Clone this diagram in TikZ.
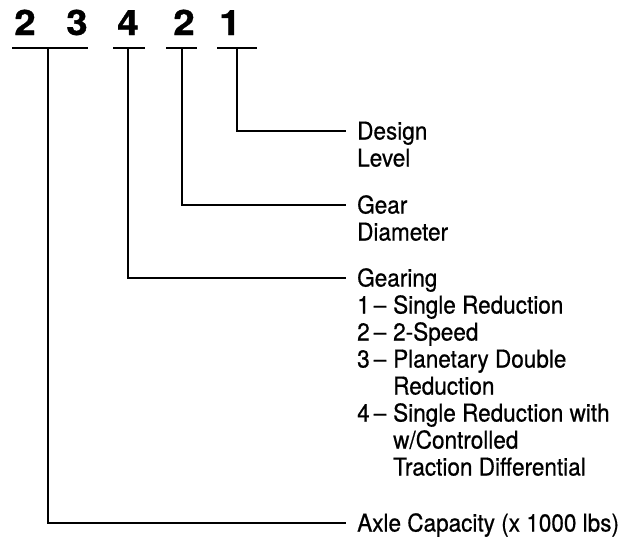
\documentclass[tikz,border=0pt]{standalone}
\usepackage{fontspec}
\setmainfont{TeX Gyre Heros}[FakeStretch=0.92,FakeBold=0.6]
\newfontfamily\digfont{TeX Gyre Heros}[FakeBold=1.0,FakeStretch=1.1]
\newcommand{\itemnum}[1]{\makebox[36pt][l]{#1\,–}}
\newcommand{\itemcont}{\hspace*{36pt}}
\begin{document}
\begin{tikzpicture}[x=1pt,y=-1pt,
  digit/.style={anchor=base,inner sep=0pt,font=\digfont\bfseries\fontsize{35}{35}\selectfont},
  bar/.style={line width=2.8pt},
  conn/.style={line width=2.8pt,line cap=butt,line join=miter},
  lbl/.style={anchor=base west,inner sep=0pt,font=\fontsize{24.5}{27}\selectfont}]
\useasboundingbox (0,0) rectangle (628,542);
% digits
\node[digit] (d1) at (25,35) {2};
\node[digit] (d2) at (77,35) {3};
\node[digit] (d3) at (128,35) {4};
\node[digit] (d4) at (184,35) {2};
\node[digit] (d5) at (230,35) {1};
% underline bars
\coordinate (b1l) at (12,48); \coordinate (b1r) at (88,48);
\coordinate (b2l) at (113,48); \coordinate (b2r) at (145,48);
\coordinate (b3l) at (166,48); \coordinate (b3r) at (197,48);
\coordinate (b4l) at (217,48); \coordinate (b4r) at (257,48);
\draw[bar] (b1l) -- (b1r);
\draw[bar] (b2l) -- (b2r);
\draw[bar] (b3l) -- (b3r);
\draw[bar] (b4l) -- (b4r);
% stem tops
\coordinate (s1) at (48,48);
\coordinate (s2) at (128,48);
\coordinate (s3) at (182,48);
\coordinate (s4) at (237,48);
% line ends
\coordinate (e4) at (346,131);
\coordinate (e3) at (346,205);
\coordinate (e2) at (346,278);
\coordinate (e1) at (346,523);
% labels
\node[lbl] (design) at ([xshift=11pt,yshift=-8.5pt]e4)
  {\begin{tabular}[t]{@{}l@{}}Design\\Level\end{tabular}};
\node[lbl] (gear) at ([xshift=11pt,yshift=-8.5pt]e3)
  {\begin{tabular}[t]{@{}l@{}}Gear\\Diameter\end{tabular}};
\node[lbl] (gearing) at ([xshift=11pt,yshift=-8.5pt]e2)
  {\begin{tabular}[t]{@{}l@{}}Gearing\\
\itemnum{1}Single Reduction\\
\itemnum{2}2-Speed\\
\itemnum{3}Planetary Double\\
\itemcont Reduction\\
\itemnum{4}Single Reduction with\\
\itemcont w/Controlled\\
\itemcont Traction Differential\end{tabular}};
\node[lbl] (axle) at ([xshift=11pt,yshift=-8.5pt]e1) {Axle Capacity (x 1000 lbs)};
% connectors
\draw[conn] (s4) |- (e4);
\draw[conn] (s3) |- (e3);
\draw[conn] (s2) |- (e2);
\draw[conn] (s1) |- (e1);
\end{tikzpicture}
\end{document}
